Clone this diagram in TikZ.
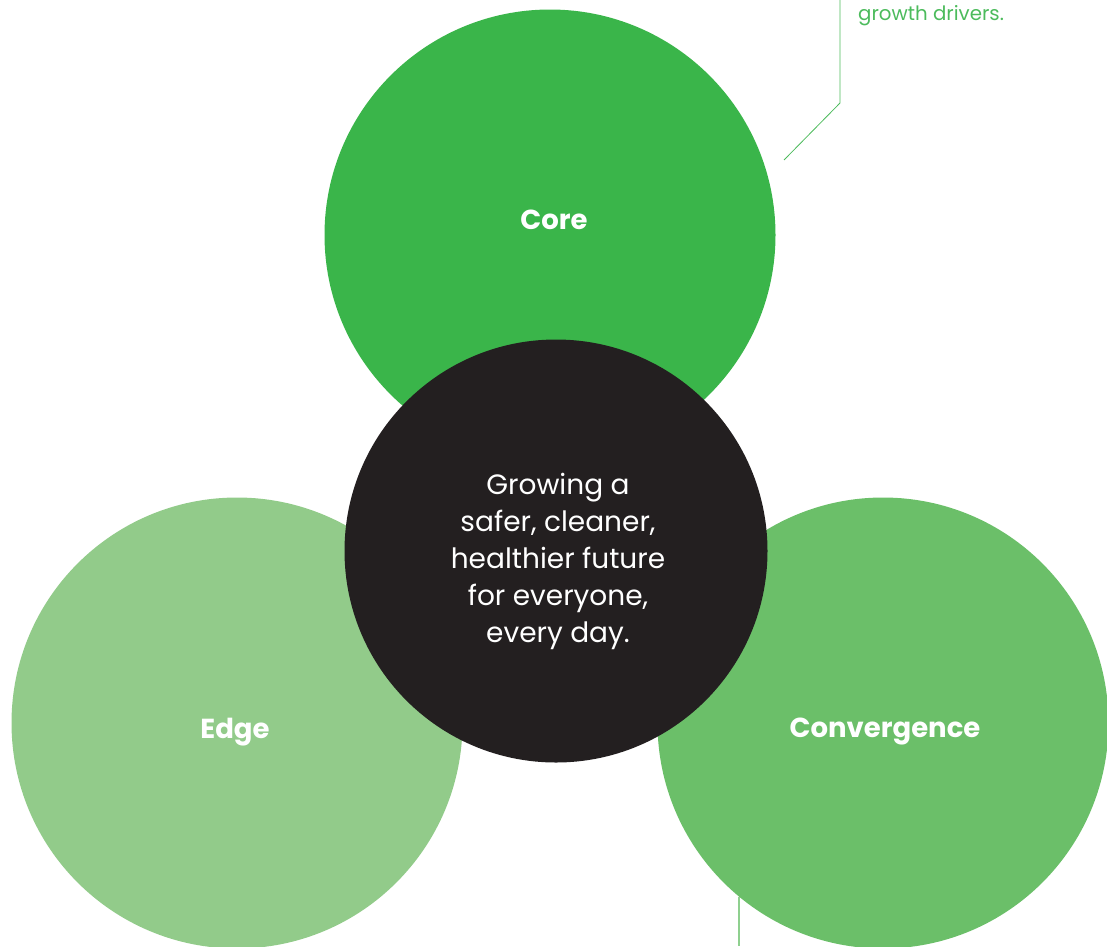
\documentclass[tikz,border=0pt]{standalone}
\usepackage{fontspec}
\setmainfont{Poppins}
\definecolor{coregreen}{HTML}{3AB54A}
\definecolor{edgegreen}{HTML}{92CB8A}
\definecolor{convgreen}{HTML}{6BBF69}
\definecolor{hubblack}{HTML}{231F20}
\definecolor{leadgreen}{HTML}{4CBB5C}
\definecolor{leadlight}{HTML}{8FD08F}
\begin{document}
\begin{tikzpicture}[x=1pt,y=-1pt,
    disc/.style={circle,inner sep=0pt,minimum size=451pt},
    label/.style={text=white,font=\fontsize{27.5}{30}\selectfont\bfseries}]
      \useasboundingbox (0,0) rectangle (1107,946);
      \path
        (237,723) node[disc,fill=edgegreen] (edge){}
        (883,723) node[disc,fill=convgreen] (conv){}
        (550,235) node[disc,fill=coregreen] (core){}
        (556,551) node[circle,inner sep=0pt,minimum size=423pt,fill=hubblack] (hub){};
      \node[label] (corelbl) at (554,220) {Core};
      \node[label] (edgelbl) at (235,732) {Edge};
      \node[label] (convlbl) at (885,732) {Convergence};
      \node[text=white,align=center,font=\fontsize{28}{37}\selectfont] (mission) at (558,561)
        {Growing a\\safer, cleaner,\\healthier future\\for everyone,\\every day.};
      \node[anchor=base west,inner sep=0pt,text=leadgreen,font=\fontsize{19.8}{22}\selectfont] (drivers) at (858,20) {growth drivers.};
      \coordinate (t0) at (784,160);
      \coordinate (t1) at (840,103);
      \coordinate (t2) at (840,0);
      \coordinate (b0) at (739,897);
      \coordinate (b1) at (739,946);
      \begin{scope}[-]
        \draw[leadgreen,line width=0.8pt] (t0) -- (t1) -- (t2);
        \draw[leadlight,line width=1.3pt] (b0) -- (b1);
      \end{scope}
    \end{tikzpicture}
\end{document}
